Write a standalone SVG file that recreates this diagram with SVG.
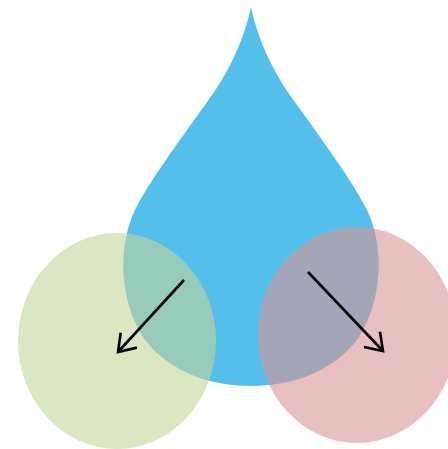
<svg xmlns="http://www.w3.org/2000/svg" width="448" height="449" viewBox="0 0 448 449">
<style>
.arrow{fill:none;stroke:#000;stroke-width:2.6;stroke-linecap:butt}
</style>
<defs>
<marker id="ah" markerUnits="userSpaceOnUse" markerWidth="40" markerHeight="40" viewBox="-20 -20 40 40" refX="0" refY="0" orient="auto" overflow="visible">
<path d="M-16,-11 L0,0 L-16,11" fill="none" stroke="#000" stroke-width="2.6" stroke-linejoin="miter"/>
</marker>
</defs>
<rect width="448" height="449" fill="#fff"/>
<g id="drop">
<path d="M251,7 C243,45 225,78 205,105 C180,140 150,180 135,210 C118,245 118,300 145,340 C170,372 210,386 251,386 C292,386 332,372 357,340 C384,300 384,245 367,210 C352,180 322,140 297,105 C277,78 259,45 251,7 Z" fill="#55BFEB"/>
</g>
<g id="green">
<ellipse cx="117" cy="341" rx="99" ry="108" fill="#C3D69B" fill-opacity="0.6"/>
</g>
<g id="red">
<ellipse cx="357" cy="335" rx="99" ry="108" fill="#D99694" fill-opacity="0.6"/>
</g>
<g id="connectors">
<line class="arrow" x1="184" y1="280" x2="118" y2="352" marker-end="url(#ah)"/>
<line class="arrow" x1="308" y1="272" x2="383" y2="351" marker-end="url(#ah)"/>
</g>
</svg>
